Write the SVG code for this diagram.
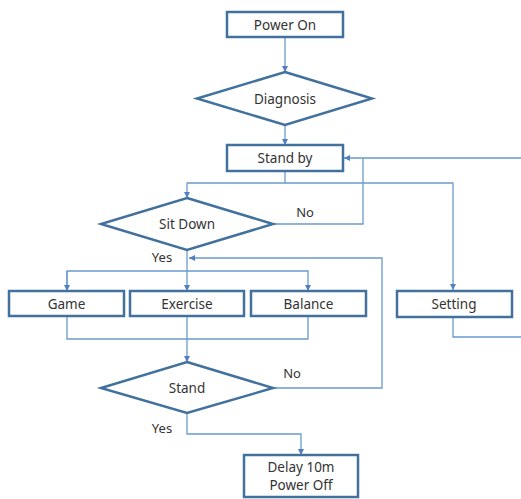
<svg xmlns="http://www.w3.org/2000/svg" width="521" height="499" viewBox="0 0 521 499">
<style>
.n{fill:#fff;stroke:#41719c;stroke-width:2.5}
.t{font-family:"Noto Sans","Open Sans",sans-serif;font-size:13.5px;fill:#333;text-anchor:middle;dominant-baseline:central}
.c{fill:none;stroke:#6a9ad0;stroke-width:1.3}
.l{font-family:"Noto Sans","Open Sans",sans-serif;font-size:13px;fill:#333;text-anchor:middle;dominant-baseline:central}
</style>
<defs>
<marker id="a" viewBox="0 0 10 10" refX="10" refY="5" markerWidth="6" markerHeight="6" orient="auto" markerUnits="userSpaceOnUse">
<path d="M0,0L10,5L0,10z" fill="#4f7fbf"/>
</marker>
</defs>
<rect width="521" height="499" fill="#fff"/>
<g id="connectors">
<path class="c" d="M285,37V72" marker-end="url(#a)"/>
<path class="c" d="M285,125V145" marker-end="url(#a)"/>
<path class="c" d="M285,171V183H187V198" marker-end="url(#a)"/>
<path class="c" d="M285,183H453V290" marker-end="url(#a)"/>
<path class="c" d="M273,224H363V158"/>
<path class="c" d="M453,317V337H523V158H344" marker-end="url(#a)"/>
<path class="c" d="M187,250V271"/>
<path class="c" d="M67,291V271H308V291" marker-end="url(#a)"/>
<path class="c" d="M67,271V291" marker-end="url(#a)"/>
<path class="c" d="M187,271V291" marker-end="url(#a)"/>
<path class="c" d="M67,316V339H308V316"/>
<path class="c" d="M187,316V362" marker-end="url(#a)"/>
<path class="c" d="M273,388H382V258H189" marker-end="url(#a)"/>
<path class="c" d="M187,413V434H301V455" marker-end="url(#a)"/>
<text class="l" x="305" y="212">No</text>
<text class="l" x="162" y="257">Yes</text>
<text class="l" x="292" y="373">No</text>
<text class="l" x="162" y="428">Yes</text>
</g>
<g id="power-on"><rect class="n" x="227" y="12" width="116" height="25"/><text class="t" x="285" y="24.5">Power On</text></g>
<g id="diagnosis"><path class="n" d="M285,72L372,98.5L285,125L197,98.5Z"/><text class="t" x="285" y="98.5">Diagnosis</text></g>
<g id="stand-by"><rect class="n" x="227" y="145" width="116" height="26"/><text class="t" x="285" y="158">Stand by</text></g>
<g id="sit-down"><path class="n" d="M187,198L273,224L187,250L101,224Z"/><text class="t" x="187" y="224">Sit Down</text></g>
<g id="game"><rect class="n" x="9" y="291" width="115" height="25"/><text class="t" x="66.5" y="303.5">Game</text></g>
<g id="exercise"><rect class="n" x="130" y="291" width="114" height="25"/><text class="t" x="187" y="303.5">Exercise</text></g>
<g id="balance"><rect class="n" x="251" y="291" width="115" height="25"/><text class="t" x="308.5" y="303.5">Balance</text></g>
<g id="setting"><rect class="n" x="397" y="291" width="115" height="26"/><text class="t" x="454" y="304">Setting</text></g>
<g id="stand"><path class="n" d="M187,362L273,388L187,413L101,388Z"/><text class="t" x="187" y="388">Stand</text></g>
<g id="delay"><rect class="n" x="244" y="455" width="114" height="42"/><text class="t" x="301" y="467">Delay 10m</text><text class="t" x="301" y="485">Power Off</text></g>
</svg>
